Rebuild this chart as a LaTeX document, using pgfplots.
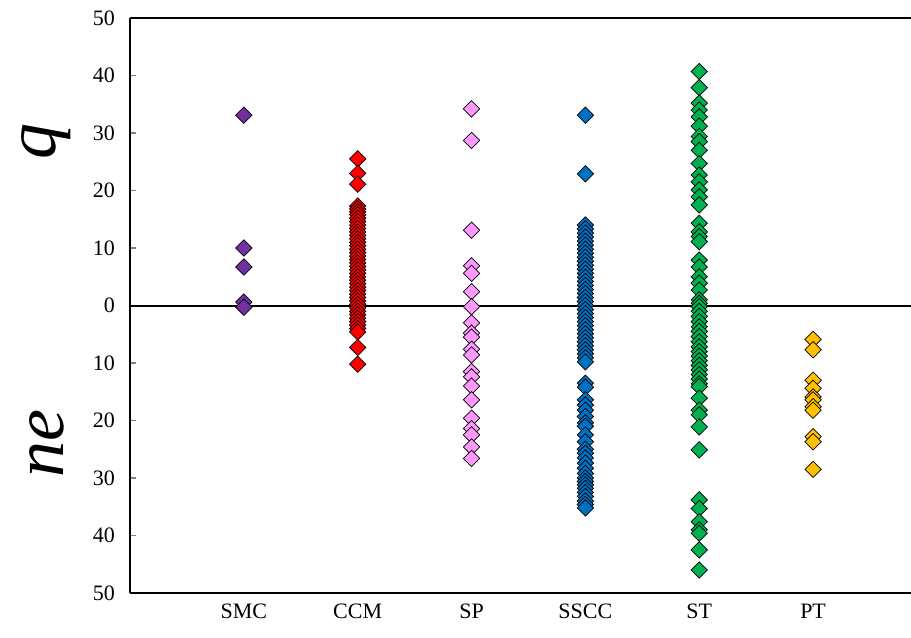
\documentclass[border=0pt]{standalone}
\usepackage{fontspec}
\setmainfont{Liberation Serif}
\usepackage{pgfplots}
\pgfplotsset{compat=1.18}

\definecolor{smc}{HTML}{7030A0}
\definecolor{ccm}{HTML}{FF0000}
\definecolor{sp}{HTML}{FF99FF}
\definecolor{sscc}{HTML}{0070C0}
\definecolor{st}{HTML}{00B050}
\definecolor{pt}{HTML}{FFC000}

\begin{document}
\begin{tikzpicture}
\begin{axis}[
    name=ax,
    scale only axis,
    width=390.5pt, height=287.5pt,
    xmin=0, xmax=6.86,
    ymin=-50, ymax=50,
    axis x line*=box,
    axis y line*=left,
    axis line style={line width=1pt},
    xtick={1,...,6},
    xticklabels={SMC,CCM,SP,SSCC,ST,PT},
    xtick style={draw=none},
    ytick={-50,-40,...,50},
    yticklabels={50,40,30,20,10,0,10,20,30,40,50},
    tick align=inside,
    major tick length=3pt,
    ytick style={line width=0.6pt},
    ticklabel style={font=\fontsize{11}{12}\selectfont},
    xticklabel style={yshift=-2pt},
    yticklabel style={xshift=-4pt},
    clip=false,
    every axis plot/.append style={only marks, mark=square*,
        mark size=2.9pt, mark options={rotate=45, draw=black, line width=0.35pt}},
]
\addplot[black, line width=1pt, mark=none, only marks=false, sharp plot] coordinates {(0,0) (6.86,0)};
% SMC
\addplot[fill=smc] coordinates {
(1,33.1) (1,10.0) (1,6.7) (1,0.6) (1,-0.3)
};
% CCM
\addplot[fill=ccm] coordinates {
(2,25.5) (2,23.0) (2,21.1) (2,17.3) (2,16.8) (2,16.3) (2,15.8) (2,15.2) (2,14.6)
(2,14.0) (2,13.4) (2,12.8) (2,12.2) (2,11.6) (2,11.0) (2,10.4) (2,9.8) (2,9.2)
(2,8.6) (2,8.0) (2,7.4) (2,6.8) (2,6.2) (2,5.6) (2,5.0) (2,4.4) (2,3.8) (2,3.2)
(2,2.6) (2,2.0) (2,1.4) (2,0.8) (2,0.2) (2,-0.4) (2,-1.0) (2,-1.6) (2,-2.2)
(2,-2.8) (2,-3.4) (2,-4.0) (2,-4.6) (2,-7.3) (2,-10.2)
};
% SP
\addplot[fill=sp] coordinates {
(3,34.2) (3,28.7) (3,13.1) (3,6.9) (3,5.6) (3,2.4) (3,-0.2) (3,-3.0) (3,-4.8)
(3,-5.5) (3,-7.6) (3,-8.6) (3,-11.5) (3,-12.4) (3,-14.0) (3,-16.4) (3,-19.6)
(3,-21.4) (3,-22.5) (3,-24.6) (3,-26.6)
};
% SSCC
\addplot[fill=sscc] coordinates {
(4,33.1) (4,22.9) (4,14.0) (4,13.3) (4,12.6) (4,11.9) (4,11.2) (4,10.5) (4,9.8)
(4,9.1) (4,8.4) (4,7.7) (4,7.0) (4,6.3) (4,5.6) (4,4.9) (4,4.2) (4,3.5) (4,2.8)
(4,2.1) (4,1.4) (4,0.7) (4,0.0) (4,-0.7) (4,-1.4) (4,-2.1) (4,-2.8) (4,-3.5)
(4,-4.2) (4,-4.9) (4,-5.6) (4,-6.3) (4,-7.0) (4,-7.7) (4,-8.4) (4,-9.1) (4,-9.8)
(4,-13.5) (4,-14.2) (4,-16.4) (4,-17.3) (4,-18.2) (4,-19.3) (4,-20.4) (4,-21.0)
(4,-22.5) (4,-23.7) (4,-25.0) (4,-25.7) (4,-26.5) (4,-27.4) (4,-28.3) (4,-29.2)
(4,-30.0) (4,-30.6) (4,-31.2) (4,-31.8) (4,-32.5) (4,-33.2) (4,-34.0) (4,-34.6)
(4,-35.2)
};
% ST
\addplot[fill=st] coordinates {
(5,40.7) (5,37.9) (5,35.2) (5,34.0) (5,32.8) (5,31.2) (5,29.4) (5,28.5) (5,27.0)
(5,24.7) (5,22.7) (5,21.5) (5,20.1) (5,18.9) (5,17.5) (5,14.3) (5,12.8) (5,12.0)
(5,11.1) (5,7.9) (5,6.7) (5,5.0) (5,3.9) (5,2.7) (5,1.0) (5,0.4) (5,-0.2)
(5,-1.0) (5,-1.9) (5,-2.8) (5,-3.7) (5,-4.5) (5,-5.4) (5,-6.3) (5,-7.2) (5,-8.0)
(5,-8.8) (5,-9.6) (5,-10.4) (5,-11.2) (5,-12.0) (5,-12.8) (5,-13.6) (5,-14.1)
(5,-16.1) (5,-18.2) (5,-19.0) (5,-21.1) (5,-25.1) (5,-33.8) (5,-35.3) (5,-37.6)
(5,-39.0) (5,-39.6) (5,-42.5) (5,-46.0)
};
% PT
\addplot[fill=pt] coordinates {
(6,-5.9) (6,-7.7) (6,-13.0) (6,-14.4) (6,-15.9) (6,-16.4) (6,-17.6) (6,-18.2)
(6,-22.8) (6,-23.7) (6,-28.5)
};
\node[rotate=90, font=\fontsize{36}{36}\selectfont\itshape]
    at (rel axis cs:-0.107,0.785) {q};
\node[rotate=90, font=\fontsize{36}{36}\selectfont\itshape]
    at (rel axis cs:-0.107,0.26) {ne};
\end{axis}
\pgfresetboundingbox
\path[use as bounding box] ([shift={(-65pt,-22pt)}]ax.south west)
    rectangle ([shift={(0pt,9pt)}]ax.north east);
\end{tikzpicture}
\end{document}
